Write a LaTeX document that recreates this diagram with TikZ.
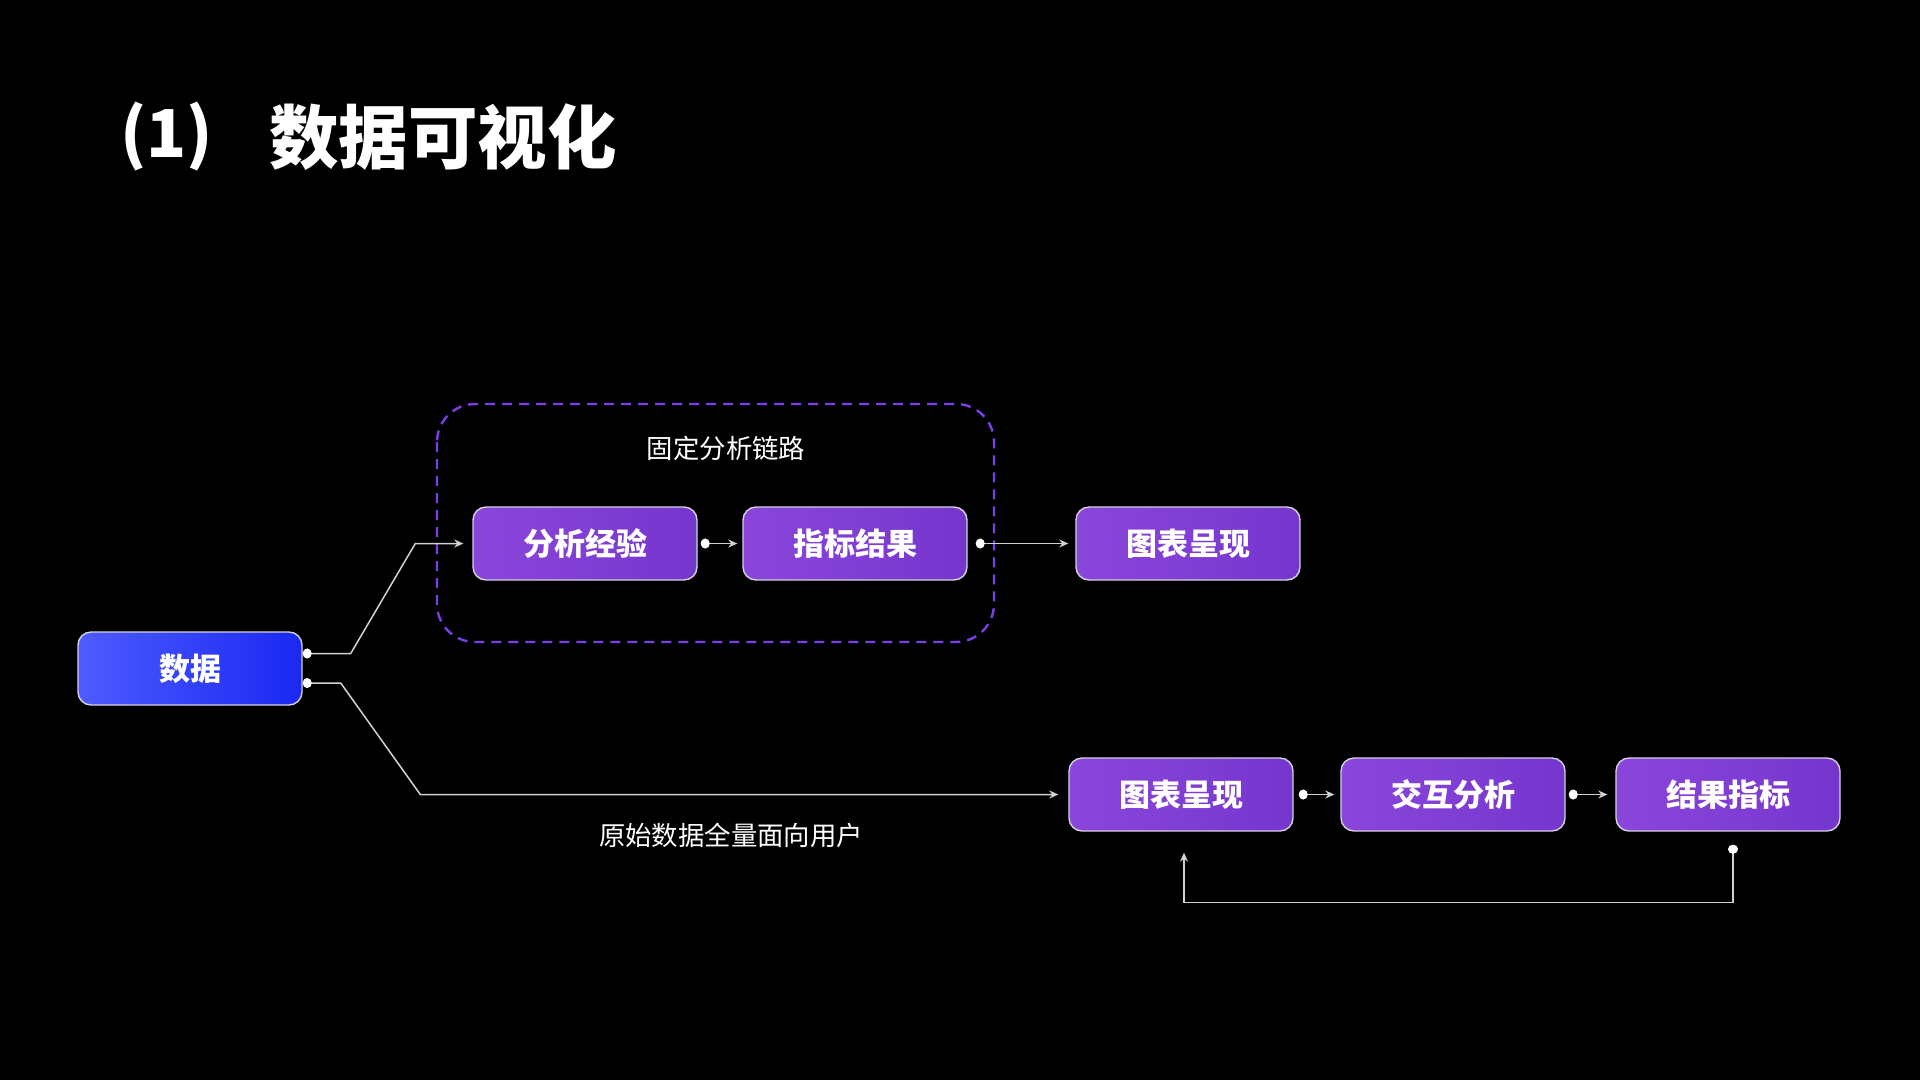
\documentclass[tikz,border=0pt]{standalone}
\usepackage{fontspec}
\setmainfont{Noto Sans CJK SC}
\usetikzlibrary{arrows.meta}
\definecolor{bg}{HTML}{000000}
\definecolor{purpleL}{HTML}{8A46DA}
\definecolor{purpleR}{HTML}{7536CE}
\definecolor{blueL}{HTML}{4E5BFF}
\definecolor{blueR}{HTML}{1A28F2}
\definecolor{boxborder}{HTML}{D6D0E0}
\definecolor{linegray}{HTML}{D2D2D2}
\definecolor{dashpurple}{HTML}{7A3FE6}
\begin{document}
\begin{tikzpicture}[x=1pt,y=-1pt,
  box/.style={rounded corners=13pt, minimum width=224pt, minimum height=73pt,
    draw=boxborder, line width=1.4pt, text=white,
    font=\fontsize{31}{36}\selectfont\bfseries, left color=purpleL, right color=purpleR},
  bluebox/.style={box, left color=blueL, right color=blueR},
  conn/.style={draw=linegray, line width=1.5pt, -{Stealth[length=9pt,width=8pt]}},
  dconn/.style={conn, {Circle[length=9pt,width=10pt,fill=white,color=white]}-{Stealth[length=9pt,width=8pt]}},
  lbl/.style={text=white, font=\fontsize{26.4}{31}\selectfont},
  ttl/.style={text=white, font=\fontsize{66}{76}\selectfont\bfseries, anchor=west, inner sep=0pt}]
\fill[bg] (0,0) rectangle (1920,1080);
\useasboundingbox (0,0) rectangle (1920,1080);

% title
\node[ttl] (t0) at (120,137) {(1)};
\node[ttl, font=\fontsize{69.5}{80}\selectfont\bfseries] (t1) at (269,137) {数据可视化};

% dashed group
\draw[dashpurple, line width=2.4pt, dash pattern=on 10pt off 7pt, rounded corners=38pt] (437,404) rectangle (994,642);
\node[lbl] (glabel) at (726,448) {固定分析链路};

% nodes
\node[bluebox] (data) at (190,668.5) {数据};
\node[box] (a1) at (585,543.5) {分析经验};
\node[box] (a2) at (855,543.5) {指标结果};
\node[box] (c1) at (1188,543.5) {图表呈现};
\node[box] (b1) at (1181,794.5) {图表呈现};
\node[box] (b2) at (1453,794.5) {交互分析};
\node[box] (b3) at (1728,794.5) {结果指标};
\node[lbl] (blabel) at (731,835) {原始数据全量面向用户};

% connectors
\coordinate (p1) at ([yshift=15pt]data.east);
\coordinate (p2) at ([yshift=-14.5pt]data.east);
\draw[dconn] (p1) -- ++(48,0) -- ([xshift=-57pt]a1.west) -- ([xshift=-9pt]a1.west);
\draw[dconn] (p2) -- ++(38,0) -- ([xshift=-648pt]b1.west) -- ([xshift=-10pt]b1.west);
\draw[dconn] ([xshift=3pt]a1.east) -- ([xshift=-5pt]a2.west);
\draw[dconn] ([xshift=8pt]a2.east) -- ([xshift=-7pt]c1.west);
\draw[dconn] ([xshift=5pt]b1.east) -- ([xshift=-6pt]b2.west);
\draw[dconn] ([xshift=3pt]b2.east) -- ([xshift=-8pt]b3.west);
\coordinate (fb) at ([xshift=5pt,yshift=-13pt]b3.south);
\draw[dconn] (fb) -- ++(0,58) -| ([xshift=3pt,yshift=-21pt]b1.south);
\end{tikzpicture}
\end{document}
